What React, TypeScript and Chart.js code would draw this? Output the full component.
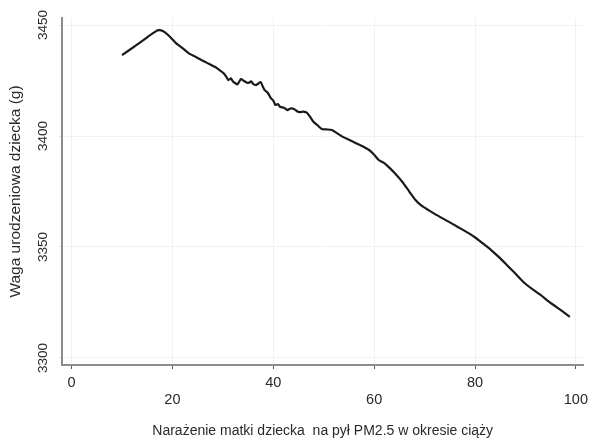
import React, { useEffect, useRef } from "react";
import { Chart, registerables } from "chart.js";

Chart.register(...registerables);

const exposure = [
  10.0, 12.5, 15.0, 16.3, 17.2, 18.2, 19.3, 20.7, 22.0, 23.2, 24.5, 25.8, 27.2, 28.5, 29.4,
  30.1, 30.6, 31.1, 31.6, 32.0, 32.4, 32.9, 33.6, 34.2, 35.0, 35.6, 36.0, 36.5, 37.0, 37.5,
  37.9, 38.3, 38.9, 39.5, 40.0, 40.4, 40.9, 41.4, 42.1, 42.8, 43.4, 44.1, 44.7, 45.3, 46.0,
  46.7, 47.3, 48.0, 48.8, 49.6, 50.5, 51.6, 52.7, 53.9, 55.1, 56.4, 57.7, 59.0, 60.0, 60.9,
  62.0, 62.9, 64.2, 65.6, 66.9, 68.2, 69.4, 70.7, 72.0, 73.4, 75.0, 76.6, 78.2, 79.9, 81.5,
  83.2, 84.8, 86.3, 88.0, 89.6, 91.3, 93.0, 94.5, 96.1, 97.5, 98.8
];

const birthWeight = [
  3436.5, 3440.4, 3444.5, 3446.6, 3447.7, 3447.2, 3445.2, 3441.9, 3439.6, 3437.4, 3435.8, 3434.2, 3432.6, 3431.1, 3429.6,
  3428.4, 3427.0, 3425.2, 3426.0, 3424.6, 3423.9, 3423.3, 3425.7, 3424.8, 3423.9, 3424.6, 3423.5, 3423.0, 3423.6, 3424.3,
  3422.4, 3420.7, 3419.5, 3417.1, 3416.0, 3414.0, 3414.4, 3413.1, 3412.8, 3411.7, 3412.4, 3412.2, 3411.2, 3410.8, 3411.0,
  3410.4, 3408.6, 3406.3, 3404.8, 3403.2, 3403.0, 3402.7, 3401.2, 3399.5, 3398.2, 3396.8, 3395.4, 3393.7, 3391.6, 3389.2,
  3387.8, 3386.0, 3383.0, 3379.3, 3375.2, 3371.2, 3368.6, 3366.7, 3364.9, 3363.1, 3361.1, 3359.0, 3356.9, 3354.5, 3351.7,
  3348.6, 3345.3, 3341.9, 3338.0, 3334.2, 3331.1, 3328.4, 3325.6, 3323.0, 3320.7, 3318.5
];

const xTicks = [0, 20, 40, 60, 80, 100];
const yTicks = [3300, 3350, 3400, 3450];

const xTitle = "Narażenie matki dziecka  na pył PM2.5 w okresie ciąży";
const yTitle = "Waga urodzeniowa dziecka (g)";

export default function App() {
  const canvasRef = useRef<HTMLCanvasElement | null>(null);

  useEffect(() => {
    const canvas = canvasRef.current;
    if (!canvas) return;
    const font = "'Liberation Sans', Arial, sans-serif";
    const chart = new Chart(canvas, {
      type: "line",
      data: {
        datasets: [
          {
            data: exposure.map((x, i) => ({ x, y: birthWeight[i] })),
            borderColor: "#1a1a1a",
            borderWidth: 2.2,
            pointRadius: 0,
            tension: 0.2,
            fill: false,
          },
        ],
      },
      options: {
        animation: false,
        responsive: false,
        maintainAspectRatio: false,
        events: [],
        layout: { padding: { top: 18, right: 3, bottom: 0, left: 0 } },
        plugins: { legend: { display: false }, tooltip: { enabled: false } },
        scales: {
          x: {
            type: "linear",
            min: -1.9,
            max: 101.5,
            afterBuildTicks: (s: any) => {
              s.ticks = xTicks.map((v) => ({ value: v }));
            },
            afterFit: (s: any) => {
              s.height = 75;
            },
            border: { color: "#8c8c8c", width: 2 },
            grid: {
              color: "#f1f1f1",
              lineWidth: 1,
              drawTicks: true,
              tickLength: 4,
              tickColor: "#555",
            },
            ticks: {
              autoSkip: false,
              maxRotation: 0,
              minRotation: 0,
              padding: 5,
              color: "#2a2a2a",
              font: { family: font, size: 14.5, lineHeight: 1.2 },
              callback: (v: any) => {
                const i = xTicks.indexOf(Number(v));
                return i % 2 === 0 ? [String(v), ""] : ["", String(v)];
              },
            },
            title: {
              display: true,
              text: xTitle,
              color: "#2a2a2a",
              font: { family: font, size: 14 },
              padding: { top: 0, bottom: 0 },
            },
          },
          y: {
            type: "linear",
            min: 3296.8,
            max: 3453.2,
            afterBuildTicks: (s: any) => {
              s.ticks = yTicks.map((v) => ({ value: v }));
            },
            afterFit: (s: any) => {
              s.width = 62;
            },
            border: { color: "#8c8c8c", width: 2 },
            grid: {
              color: "#f1f1f1",
              lineWidth: 1,
              drawTicks: true,
              tickLength: 3,
              tickColor: "#e0e0e0",
            },
            ticks: {
              minRotation: 90,
              maxRotation: 90,
              crossAlign: "center",
              padding: 1,
              color: "#2a2a2a",
              font: { family: font, size: 13.5 },
              callback: (v: any) => String(v),
            },
            title: {
              display: true,
              text: yTitle,
              color: "#2a2a2a",
              font: { family: font, size: 15.5 },
              padding: { top: 6, bottom: 0 },
            },
          },
        },
      },
    });
    return () => chart.destroy();
  }, []);

  return (
    <div style={{ position: "fixed", left: 0, top: 0, width: 593, height: 440, background: "#fff" }}>
      <canvas ref={canvasRef} width={593} height={440} style={{ width: 593, height: 440, display: "block" }} />
    </div>
  );
}
